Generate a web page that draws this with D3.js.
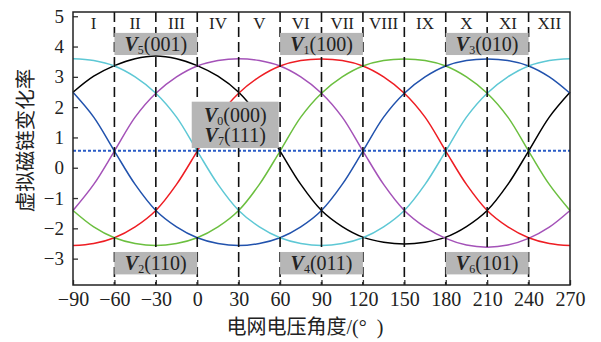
<!DOCTYPE html>
<html>
<head>
<meta charset="utf-8">
<script src="https://cdn.jsdelivr.net/npm/d3@7"></script>
<style>
  body { margin: 0; background: #fff; }
  svg text { fill: #222; }
</style>
</head>
<body>
<svg id="chart" width="601" height="342"></svg>
<script>
// Grid-voltage angle samples (degrees)
const angles = [-90, -75, -60, -45, -30, -15, 0, 15, 30, 45, 60, 75, 90,
                105, 120, 135, 150, 165, 180, 195, 210, 225, 240, 255, 270];

// Virtual flux change rate of each voltage vector
const fluxV5 = [2.49, 3.02, 3.37, 3.60, 3.69, 3.60, 3.37, 3.02, 2.49, 1.67, 0.55, -0.55, -1.41,
                -1.94, -2.29, -2.46, -2.52, -2.46, -2.29, -1.94, -1.41, -0.55, 0.55, 1.67, 2.49];
const fluxV4 = [-1.41, -0.55, 0.55, 1.67, 2.46, 3.00, 3.36, 3.54, 3.60, 3.54, 3.36, 3.00, 2.46,
                1.67, 0.55, -0.55, -1.41, -1.96, -2.33, -2.55, -2.62, -2.55, -2.33, -1.96, -1.41];
const fluxV1 = [-2.57, -2.50, -2.31, -1.95, -1.41, -0.55, 0.55, 1.67, 2.46, 3.00, 3.36, 3.54, 3.59,
                3.54, 3.36, 3.00, 2.46, 1.67, 0.55, -0.55, -1.41, -1.95, -2.31, -2.50, -2.57];
const fluxV2 = [-1.41, -1.95, -2.31, -2.50, -2.57, -2.50, -2.31, -1.95, -1.41, -0.55, 0.55, 1.67, 2.46,
                3.00, 3.36, 3.54, 3.59, 3.54, 3.36, 3.00, 2.46, 1.67, 0.55, -0.55, -1.41];
const fluxV3 = [2.49, 1.67, 0.55, -0.55, -1.41, -1.95, -2.31, -2.50, -2.57, -2.50, -2.31, -1.95, -1.41,
                -0.55, 0.55, 1.67, 2.46, 3.00, 3.36, 3.54, 3.59, 3.54, 3.36, 3.00, 2.46];
const fluxV6 = [3.60, 3.54, 3.36, 3.00, 2.46, 1.67, 0.55, -0.55, -1.41, -1.95, -2.31, -2.50, -2.57,
                -2.50, -2.31, -1.95, -1.41, -0.55, 0.55, 1.67, 2.46, 3.00, 3.36, 3.54, 3.60];

// Zero-vector level
const zeroVectorLevel = 0.56;

// Axis ticks
const xTicks = [-90, -60, -30, 0, 30, 60, 90, 120, 150, 180, 210, 240, 270];
const yTicks = [-3, -2, -1, 0, 1, 2, 3, 4, 5];

// Sector boundaries and names
const sectorBounds = [-60, -30, 0, 30, 60, 90, 120, 150, 180, 210, 240];
const sectorNames = ["I", "II", "III", "IV", "V", "VI", "VII", "VIII", "IX", "X", "XI", "XII"];

// Vector labels: angle span covered by each label
const upperLabels = [
  { sub: "5", code: "(001)", from: -60, to: 0 },
  { sub: "1", code: "(100)", from: 60, to: 120 },
  { sub: "3", code: "(010)", from: 180, to: 240 }
];
const lowerLabels = [
  { sub: "2", code: "(110)", from: -60, to: 0 },
  { sub: "4", code: "(011)", from: 60, to: 120 },
  { sub: "6", code: "(101)", from: 180, to: 240 }
];
const zeroLabels = [
  { sub: "0", code: "(000)" },
  { sub: "7", code: "(111)" }
];

const curves = [
  { values: fluxV5, color: "#000000" },
  { values: fluxV4, color: "#a452b8" },
  { values: fluxV1, color: "#ee1d23" },
  { values: fluxV2, color: "#6bbf3f" },
  { values: fluxV3, color: "#2152ad" },
  { values: fluxV6, color: "#5ec8d5" }
];

// ---- layout ----
const plot = { left: 73, right: 570, top: 12, bottom: 285 };
const serif = "'Liberation Serif', 'Times New Roman', serif";
const cjk = "'Liberation Serif', 'Noto Sans CJK SC', serif";
const boxFill = "#b6b6b6";

const svg = d3.select("#chart");

const x = d3.scaleLinear().domain([-90, 270]).range([plot.left, plot.right]);
const y = d3.scaleLinear().domain([-3.87, 5.14]).range([plot.bottom, plot.top]);

// curves
const line = d3.line()
  .x((d, i) => x(angles[i]))
  .y(d => y(d))
  .curve(d3.curveCatmullRom.alpha(0.5));

svg.append("g")
  .selectAll("path")
  .data(curves)
  .join("path")
  .attr("d", c => line(c.values))
  .attr("fill", "none")
  .attr("stroke", c => c.color)
  .attr("stroke-width", 1.5);

// zero-vector level
svg.append("line")
  .attr("x1", plot.left).attr("x2", plot.right)
  .attr("y1", y(zeroVectorLevel)).attr("y2", y(zeroVectorLevel))
  .attr("stroke", "#2a5cc6")
  .attr("stroke-width", 2)
  .attr("stroke-dasharray", "3,2");

// sector boundaries
svg.append("g")
  .selectAll("line")
  .data(sectorBounds)
  .join("line")
  .attr("x1", d => x(d)).attr("x2", d => x(d))
  .attr("y1", plot.top).attr("y2", plot.bottom)
  .attr("stroke", "#111")
  .attr("stroke-width", 1.6)
  .attr("stroke-dasharray", "10,5");

// sector names
const sectorEdges = [-90, ...sectorBounds, 270];
svg.append("g")
  .selectAll("text")
  .data(sectorNames)
  .join("text")
  .attr("x", (d, i) => (x(sectorEdges[i]) + x(sectorEdges[i + 1])) / 2)
  .attr("y", plot.top + 16.5)
  .attr("text-anchor", "middle")
  .attr("font-family", serif)
  .attr("font-size", 17)
  .text(d => d);

// vector label helper
function vectorText(sel, d, size) {
  sel.append("tspan")
    .attr("font-weight", "bold")
    .attr("font-style", "italic")
    .text("V");
  sel.append("tspan")
    .attr("font-size", size * 0.6)
    .attr("dy", 3)
    .text(d.sub);
  sel.append("tspan")
    .attr("dy", -3)
    .text(d.code);
}

function labelBand(list, yHi, yLo) {
  const g = svg.append("g");
  list.forEach(d => {
    const x0 = x(d.from), x1 = x(d.to);
    const y0 = y(yHi), y1 = y(yLo);
    g.append("rect")
      .attr("x", x0).attr("y", y0)
      .attr("width", x1 - x0).attr("height", y1 - y0)
      .attr("fill", boxFill);
    const t = g.append("text")
      .attr("x", (x0 + x1) / 2)
      .attr("y", (y0 + y1) / 2 + 7)
      .attr("text-anchor", "middle")
      .attr("font-family", serif)
      .attr("font-size", 20);
    vectorText(t, d, 20);
  });
}

labelBand(upperLabels, 4.45, 3.72);
labelBand(lowerLabels, -2.78, -3.52);

// zero-vector label box
{
  const g = svg.append("g");
  const x0 = x(-4), x1 = x(59);
  const y0 = y(2.18), y1 = y(0.65);
  g.append("rect")
    .attr("x", x0).attr("y", y0)
    .attr("width", x1 - x0).attr("height", y1 - y0)
    .attr("fill", boxFill);
  const cy = (y0 + y1) / 2;
  zeroLabels.forEach((d, i) => {
    const t = g.append("text")
      .attr("x", (x0 + x1) / 2)
      .attr("y", cy - 3 + i * 20.5)
      .attr("text-anchor", "middle")
      .attr("font-family", serif)
      .attr("font-size", 20);
    vectorText(t, d, 20);
  });
}

// axes
const xAxis = d3.axisBottom(x)
  .tickValues(xTicks)
  .tickSizeInner(-5)
  .tickSizeOuter(0)
  .tickPadding(7);
const gx = svg.append("g")
  .attr("transform", `translate(0,${plot.bottom})`)
  .call(xAxis);
gx.select(".domain").remove();
gx.selectAll("line").attr("stroke", "#333").attr("stroke-width", 1.3);
gx.selectAll("text").attr("font-family", serif).attr("font-size", 20).attr("fill", "#222");

const yAxis = d3.axisLeft(y)
  .tickValues(yTicks)
  .tickSizeInner(-5)
  .tickSizeOuter(0)
  .tickPadding(9);
const gy = svg.append("g")
  .attr("transform", `translate(${plot.left},0)`)
  .call(yAxis);
gy.select(".domain").remove();
gy.selectAll("line").attr("stroke", "#333").attr("stroke-width", 1.3);
gy.selectAll("text").attr("font-family", serif).attr("font-size", 19).attr("fill", "#222");

// frame
svg.append("rect")
  .attr("x", plot.left).attr("y", plot.top)
  .attr("width", plot.right - plot.left)
  .attr("height", plot.bottom - plot.top)
  .attr("fill", "none")
  .attr("stroke", "#222")
  .attr("stroke-width", 1.5);

// axis titles
svg.append("text")
  .attr("x", 305)
  .attr("y", 334)
  .attr("text-anchor", "middle")
  .attr("font-family", cjk)
  .attr("font-size", 20)
  .style("white-space", "pre")
  .text("电网电压角度/(°  )");

svg.append("text")
  .attr("transform", "translate(33,140.5) rotate(-90)")
  .attr("text-anchor", "middle")
  .attr("font-family", "'Noto Sans CJK SC', sans-serif")
  .attr("font-size", 20.5)
  .text("虚拟磁链变化率");
</script>
</body>
</html>
